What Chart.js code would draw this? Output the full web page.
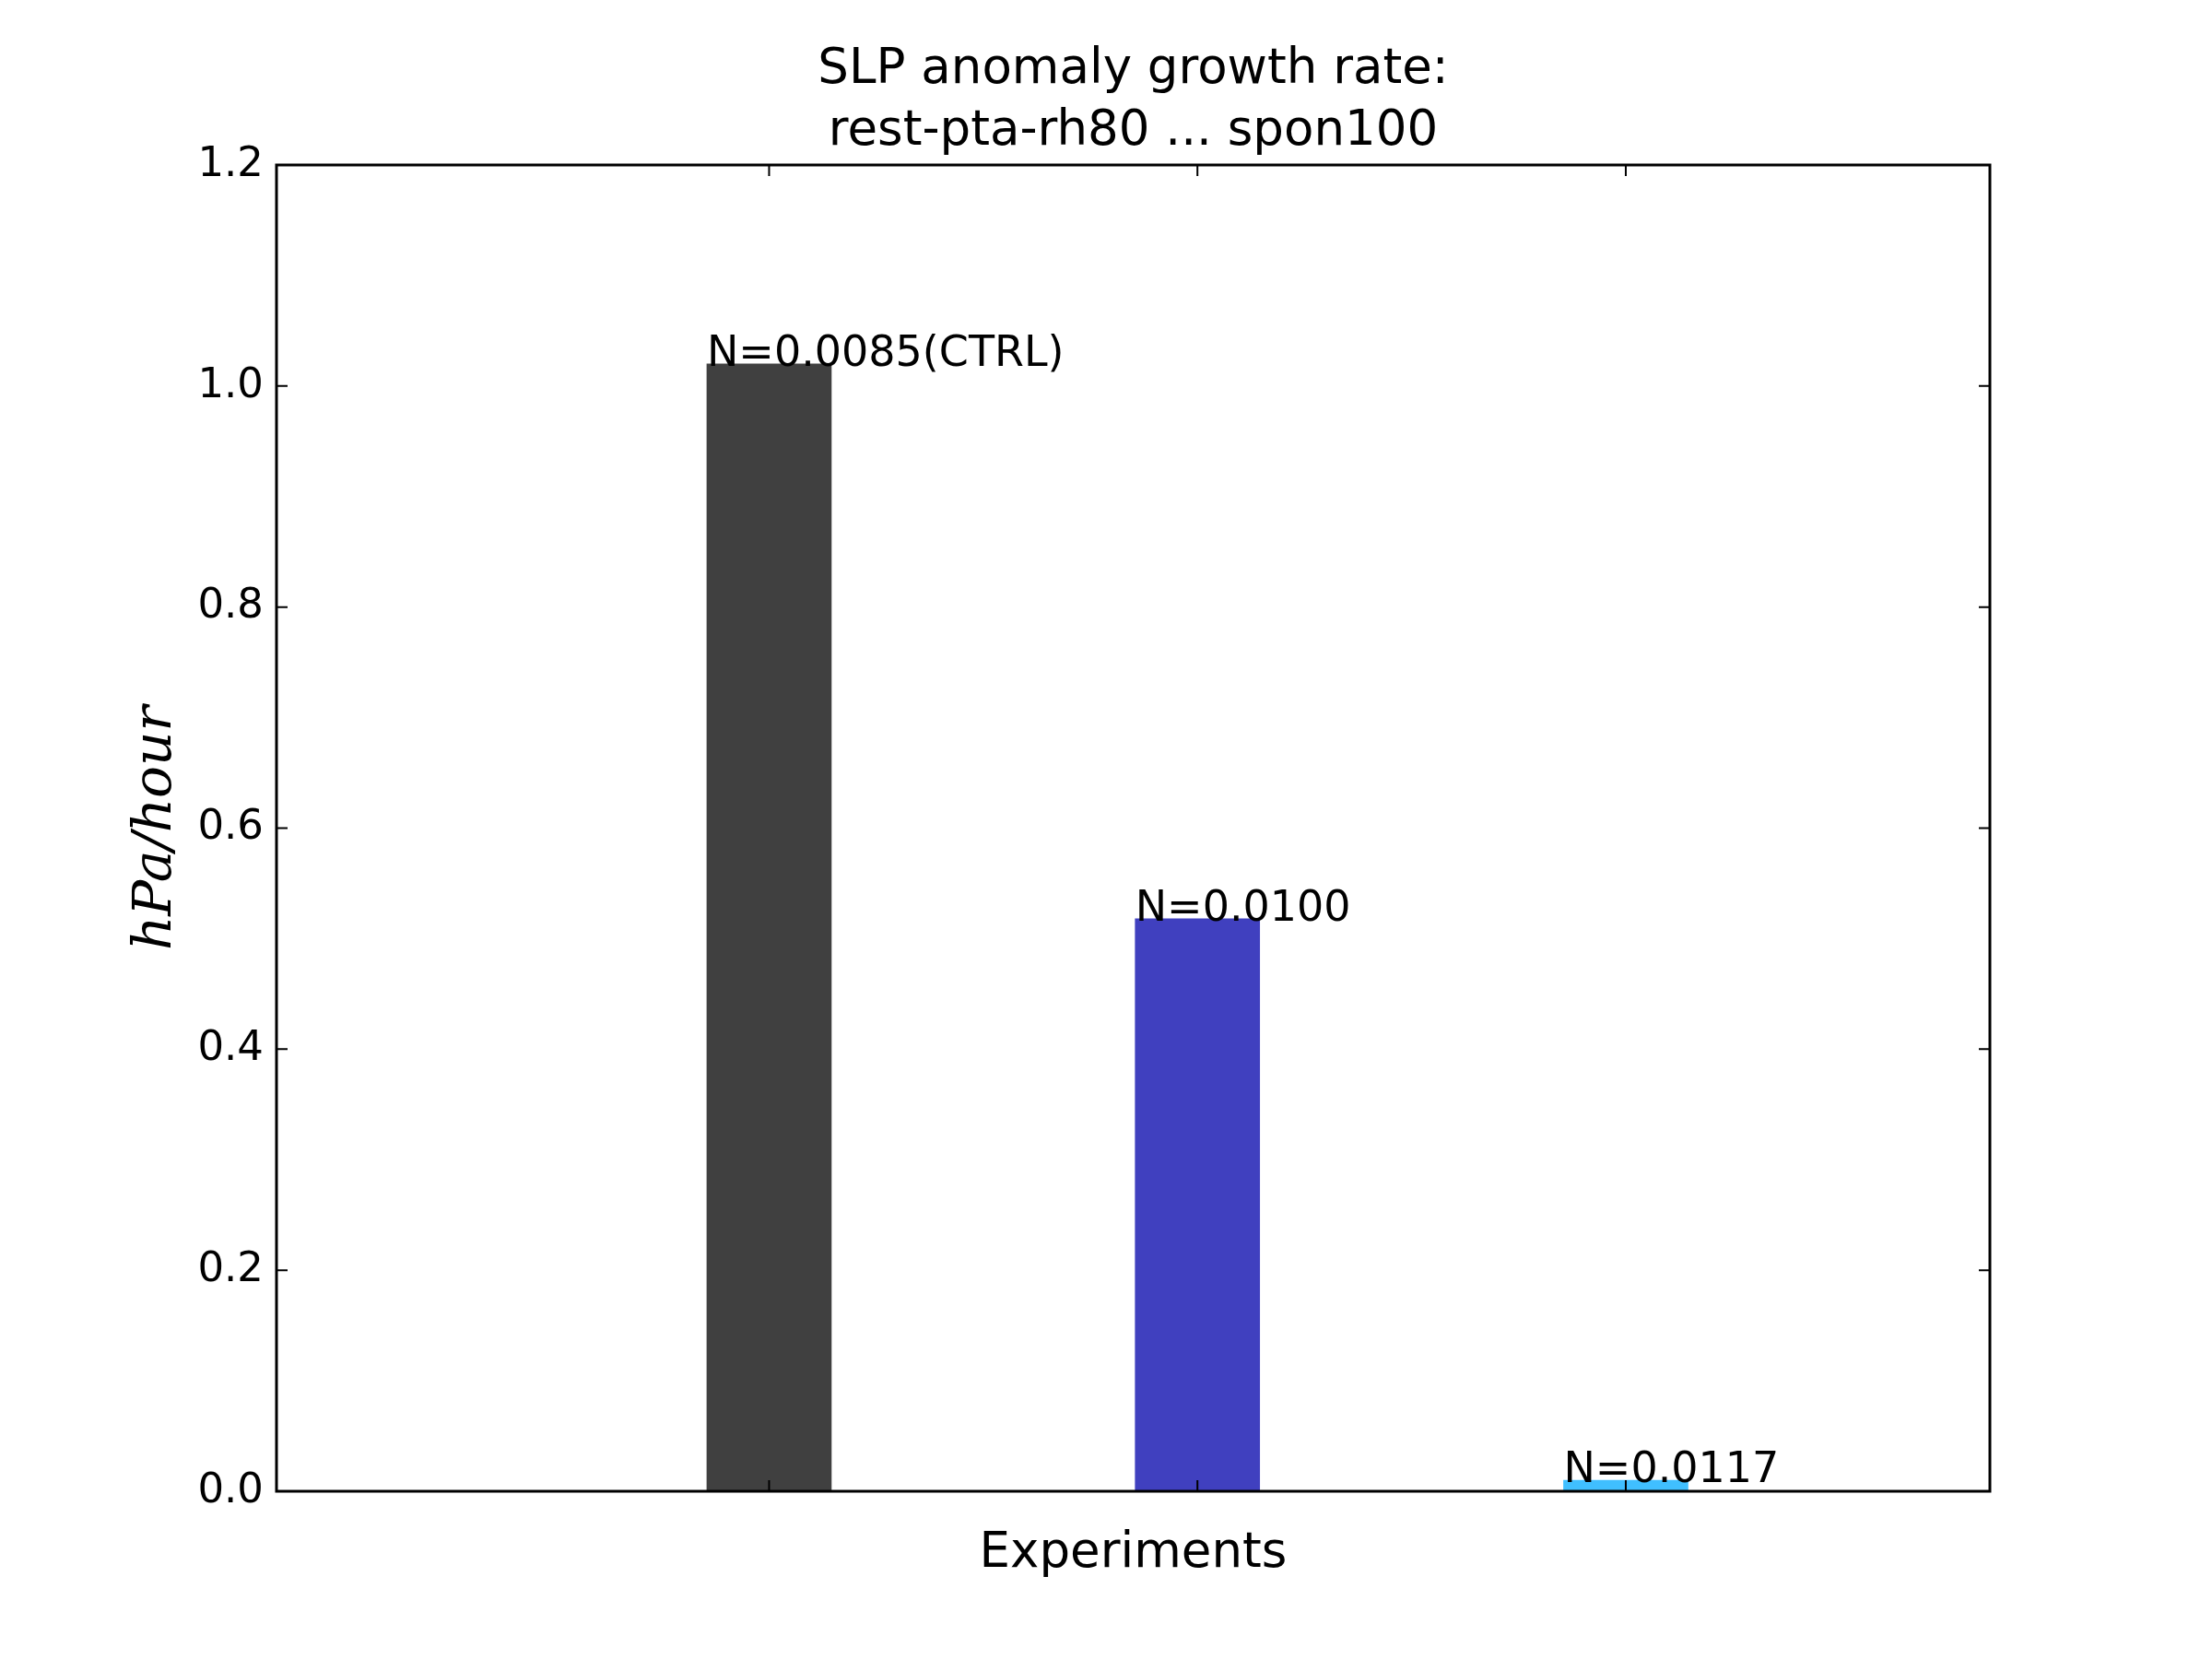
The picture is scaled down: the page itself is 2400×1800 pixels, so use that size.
<!DOCTYPE html>
<html><head><meta charset="utf-8">
<script src="https://cdn.jsdelivr.net/npm/chart.js@4"></script>
<style>body{margin:0;background:#fff}#wrap{width:2400px;height:1800px}</style>
</head><body><div id="wrap"><canvas id="c" width="2400" height="1800"></canvas></div>
<script>
const positions = [1.15, 2.15, 3.15];
const values = [1.02, 0.518, 0.01];
const barLabels = ['N=0.0085(CTRL)', 'N=0.0100', 'N=0.0117'];
const barColors = ['#404040', '#4040bf', '#40bfff'];
const yTicks = [0.0, 0.2, 0.4, 0.6, 0.8, 1.0, 1.2];

const F = 'DejaVu Sans';
const decor = {
  id: 'decor',
  afterDatasetsDraw(chart) {
    const {ctx, chartArea: a, scales: {x, y}} = chart;
    ctx.save();
    // bar labels
    ctx.fillStyle = '#000';
    ctx.font = `46px ${F}`;
    ctx.textAlign = 'left'; ctx.textBaseline = 'alphabetic';
    const meta = chart.getDatasetMeta(0);
    meta.data.forEach((b, i) => {
      ctx.fillText(barLabels[i], b.x - b.width / 2 + 60 * 0, y.getPixelForValue(values[i]) + 2);
    });
    // frame
    ctx.strokeStyle = '#000'; ctx.lineWidth = 3;
    ctx.strokeRect(a.left, a.top, a.right - a.left, a.bottom - a.top);
    ctx.lineWidth = 2;
    // y ticks
    ctx.font = `45px ${F}`;
    ctx.textAlign = 'right'; ctx.textBaseline = 'middle';
    yTicks.forEach(t => {
      const py = y.getPixelForValue(t);
      ctx.beginPath();
      ctx.moveTo(a.left, py); ctx.lineTo(a.left + 12, py);
      ctx.moveTo(a.right, py); ctx.lineTo(a.right - 12, py);
      ctx.stroke();
      ctx.fillText(t.toFixed(1), a.left - 14, py);
    });
    // x ticks
    positions.forEach(p => {
      const px = x.getPixelForValue(p);
      ctx.beginPath();
      ctx.moveTo(px, a.bottom); ctx.lineTo(px, a.bottom - 12);
      ctx.moveTo(px, a.top); ctx.lineTo(px, a.top + 12);
      ctx.stroke();
    });
    // titles
    ctx.textAlign = 'center'; ctx.textBaseline = 'alphabetic';
    ctx.font = `53px ${F}`;
    const cx = (a.left + a.right) / 2;
    ctx.fillText('SLP anomaly growth rate:', cx, 90);
    ctx.fillText('rest-pta-rh80 ... spon100', cx, 157);
    ctx.fillText('Experiments', cx, 1700);
    ctx.save();
    ctx.translate(185, (a.top + a.bottom) / 2);
    ctx.rotate(-Math.PI / 2);
    ctx.font = `italic 58px "DejaVu Serif"`;
    ctx.fillText('hPa/hour', 0, 0);
    ctx.restore();
    ctx.restore();
  }
};

new Chart(document.getElementById('c'), {
  type: 'bar',
  data: {
    datasets: [{
      data: positions.map((p, i) => ({x: p, y: values[i]})),
      backgroundColor: barColors,
      barThickness: 135,
      borderWidth: 0
    }]
  },
  options: {
    responsive: false, animation: false,
    layout: {padding: {left: 300, right: 241, top: 179, bottom: 182}},
    plugins: {legend: {display: false}, tooltip: {enabled: false}},
    scales: {
      x: {type: 'linear', min: 0, max: 4, offset: false, display: false},
      y: {min: 0, max: 1.2, display: false}
    }
  },
  plugins: [decor]
});
</script></body></html>
